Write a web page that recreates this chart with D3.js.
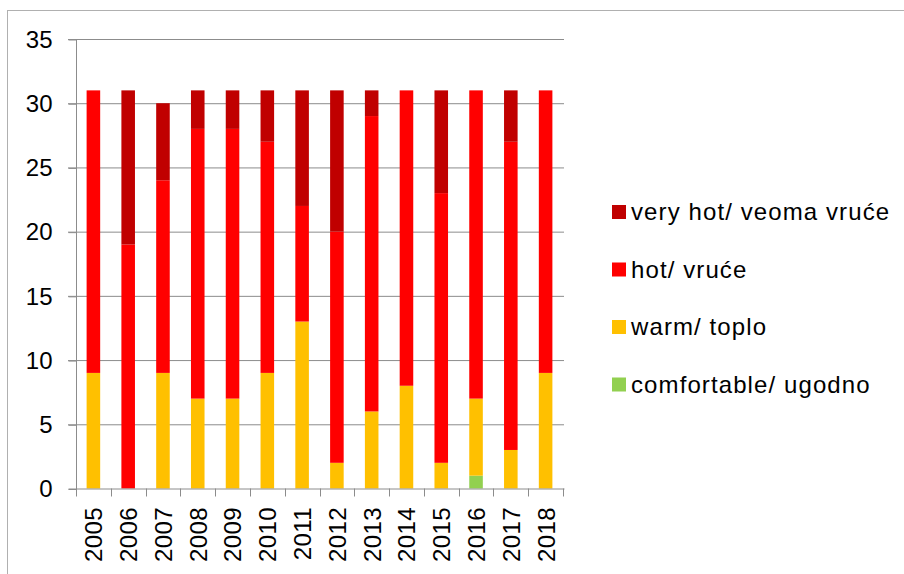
<!DOCTYPE html>
<html><head><meta charset="utf-8">
<script src="https://cdn.jsdelivr.net/npm/d3@7"></script>
<style>body{margin:0;background:#fff}svg{display:block;font-family:"Liberation Sans",Arial,sans-serif}</style>
</head><body><svg id="c" width="904" height="574"></svg>
<script>
const years = ["2005","2006","2007","2008","2009","2010","2011","2012","2013","2014","2015","2016","2017","2018"];
const comfortable = [0,0,0,0,0,0,0,0,0,0,0,1,0,0];
const warm = [9,0,9,7,7,9,13,2,6,8,2,6,3,9];
const hot = [22,19,15,21,21,18,9,18,23,23,21,24,24,22];
const veryHot = [0,12,6,3,3,4,9,11,2,0,8,0,4,0];
const yTicks = [0,5,10,15,20,25,30,35];
const seriesNames = ["comfortable/ ugodno","warm/ toplo","hot/ vruće","very hot/ veoma vruće"];
const seriesColors = ["#92D050","#FFC000","#FF0000","#C00000"];

const svg = d3.select("#c");
svg.append("rect").attr("x",7.5).attr("y",10.5).attr("width",1000).attr("height",1000)
  .attr("fill","none").attr("stroke","#b0b0b0").attr("stroke-width",1);

const L = 76, R = 563, T = 39, B = 488.5;
const x = d3.scaleBand().domain(years).range([L,R]).paddingInner(0.61).paddingOuter(0.305);
const y = d3.scaleLinear().domain([0,35]).range([B,T]);

// gridlines
svg.append("g").selectAll("line").data(yTicks.filter(d=>d>0)).join("line")
  .attr("x1",L-8).attr("x2",R+1).attr("y1",d=>y(d)+0.5).attr("y2",d=>y(d)+0.5)
  .attr("stroke","#8c8c8c").attr("stroke-width",1);

const rows = years.map((yr,i)=>({year:yr, c:comfortable[i], w:warm[i], h:hot[i], v:veryHot[i]}));
const stack = d3.stack().keys(["c","w","h","v"])(rows);
svg.append("g").selectAll("g").data(stack).join("g")
  .attr("fill",(d,i)=>seriesColors[i])
  .selectAll("rect").data(d=>d.filter(s=>s[1]-s[0]>0)).join("rect")
  .attr("x",d=>x(d.data.year)).attr("width",x.bandwidth())
  .attr("y",d=>y(d[1])).attr("height",d=>y(d[0])-y(d[1]));

// y axis
const ya = svg.append("g").attr("transform",`translate(${L+0.5},0.5)`)
  .call(d3.axisLeft(y).tickValues(yTicks).tickSize(8).tickPadding(16));
ya.select(".domain").attr("stroke","#8c8c8c").attr("d",`M0,${T}V${B}`);
ya.selectAll(".tick line").attr("stroke","#8c8c8c");
ya.selectAll("text").attr("font-size",24).attr("fill","#000").attr("font-family","Liberation Sans, Arial, sans-serif");

// x axis
const xa = svg.append("g").attr("transform",`translate(0.5,${B+0.5})`)
  .call(d3.axisBottom(x).tickSize(0).tickPadding(0));
xa.select(".domain").attr("stroke","#8c8c8c").attr("d",`M${L-8},0H${R+1}`);
const xt = svg.append("g");
xt.selectAll("line").data(years.map((d,i)=>i===0?L:x(d)-x.step()*x.paddingInner()/2).concat([R]))
  .join("line").attr("x1",d=>Math.round(d)+0.5).attr("x2",d=>Math.round(d)+0.5)
  .attr("y1",B).attr("y2",B+8).attr("stroke","#8c8c8c");
xa.selectAll(".tick text")
  .attr("font-size",24).attr("fill","#000").attr("font-family","Liberation Sans, Arial, sans-serif")
  .attr("letter-spacing",0.4)
  .attr("text-anchor","end").attr("dy","0.35em")
  .attr("transform","translate(0,18) rotate(-90)").attr("x",0).attr("y",0);

// legend
const lg = svg.append("g");
const legendOrder = [3,2,1,0];
legendOrder.forEach((si,k)=>{
  const yy = 212 + k*57.5;
  lg.append("rect").attr("x",612).attr("y",yy-7).attr("width",14).attr("height",14).attr("fill",seriesColors[si]);
  lg.append("text").attr("x",631).attr("y",yy).attr("dy","0.35em").attr("font-size",24)
    .attr("letter-spacing",1.1).attr("fill","#000")
    .text(seriesNames[si]);
});
</script></body></html>
